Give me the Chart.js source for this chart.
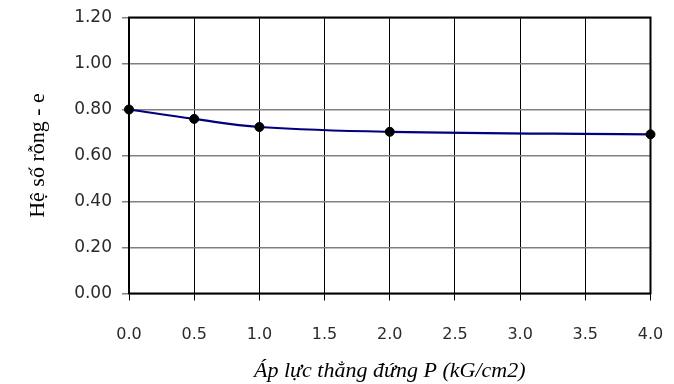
<!DOCTYPE html>
<html>
<head>
<meta charset="utf-8">
<script src="https://cdn.jsdelivr.net/npm/chart.js@4/dist/chart.umd.min.js"></script>
<style>
  html, body { margin: 0; padding: 0; background: #ffffff; }
  #wrap { width: 674px; height: 384px; }
</style>
</head>
<body>
<div id="wrap"><canvas id="c" width="674" height="384"></canvas></div>
<script>
// Pressure steps P (kG/cm2) and void ratio e
const pressure = [0, 0.5, 1, 2, 4];
const voidRatio = [0.800, 0.759, 0.724, 0.703, 0.692];

const xTitle = 'Áp lực thẳng đứng P (kG/cm2)';
const yTitle = 'Hệ số rỗng - e';

const xTickValues = [0, 0.5, 1, 1.5, 2, 2.5, 3, 3.5, 4];
const yTickValues = [0, 0.2, 0.4, 0.6, 0.8, 1.0, 1.2];

const points = pressure.map((p, i) => ({ x: p, y: voidRatio[i] }));

// Black frame round the plot area
const plotFrame = {
  id: 'plotFrame',
  afterDatasetsDraw(chart) {
    const a = chart.chartArea;
    const ctx = chart.ctx;
    ctx.save();
    ctx.strokeStyle = '#000000';
    ctx.lineWidth = 2;
    ctx.strokeRect(a.left, a.top, a.right - a.left, a.bottom - a.top);
    ctx.restore();
  }
};

new Chart(document.getElementById('c'), {
  type: 'scatter',
  data: {
    datasets: [{
      data: points,
      showLine: true,
      borderColor: '#000080',
      borderWidth: 2.2,
      tension: 0.4,
      pointRadius: 4.5,
      pointBackgroundColor: '#000000',
      pointBorderColor: '#000000',
      pointBorderWidth: 1,
      clip: false
    }]
  },
  options: {
    responsive: false,
    animation: false,
    layout: { padding: { top: 17.5, right: 0, left: 0, bottom: 0 } },
    plugins: { legend: { display: false }, tooltip: { enabled: false } },
    scales: {
      x: {
        type: 'linear',
        min: 0,
        max: 4,
        afterBuildTicks(scale) { scale.ticks = xTickValues.map(v => ({ value: v })); },
        afterFit(scale) {
          scale.height = 90.5;
          scale.paddingLeft = 0;
          scale.paddingRight = 23.5;
        },
        grid: { color: '#000000', lineWidth: 1, tickLength: 7, tickColor: '#000000' },
        border: { display: false },
        ticks: {
          padding: 25,
          color: '#2a2a2a',
          font: { family: 'DejaVu Sans', size: 16 },
          callback: v => Number(v).toFixed(1)
        },
        title: {
          display: true,
          text: xTitle,
          color: '#000000',
          font: { family: 'Liberation Serif', size: 22, style: 'italic' },
          padding: { top: 0, bottom: 0 }
        }
      },
      y: {
        type: 'linear',
        min: 0,
        max: 1.2,
        afterBuildTicks(scale) { scale.ticks = yTickValues.map(v => ({ value: v })); },
        afterFit(scale) {
          scale.width = 129;
          scale.paddingTop = 0;
          scale.paddingBottom = 0;
        },
        grid: { color: '#808080', lineWidth: 1.5, tickLength: 7, tickColor: '#808080' },
        border: { display: false },
        ticks: {
          padding: 10,
          color: '#2a2a2a',
          font: { family: 'DejaVu Sans', size: 17 },
          callback: v => Number(v).toFixed(2)
        },
        title: {
          display: true,
          text: yTitle,
          color: '#000000',
          font: { family: 'Liberation Serif', size: 22 },
          padding: { top: 25, bottom: 0 }
        }
      }
    }
  },
  plugins: [plotFrame]
});
</script>
</body>
</html>
